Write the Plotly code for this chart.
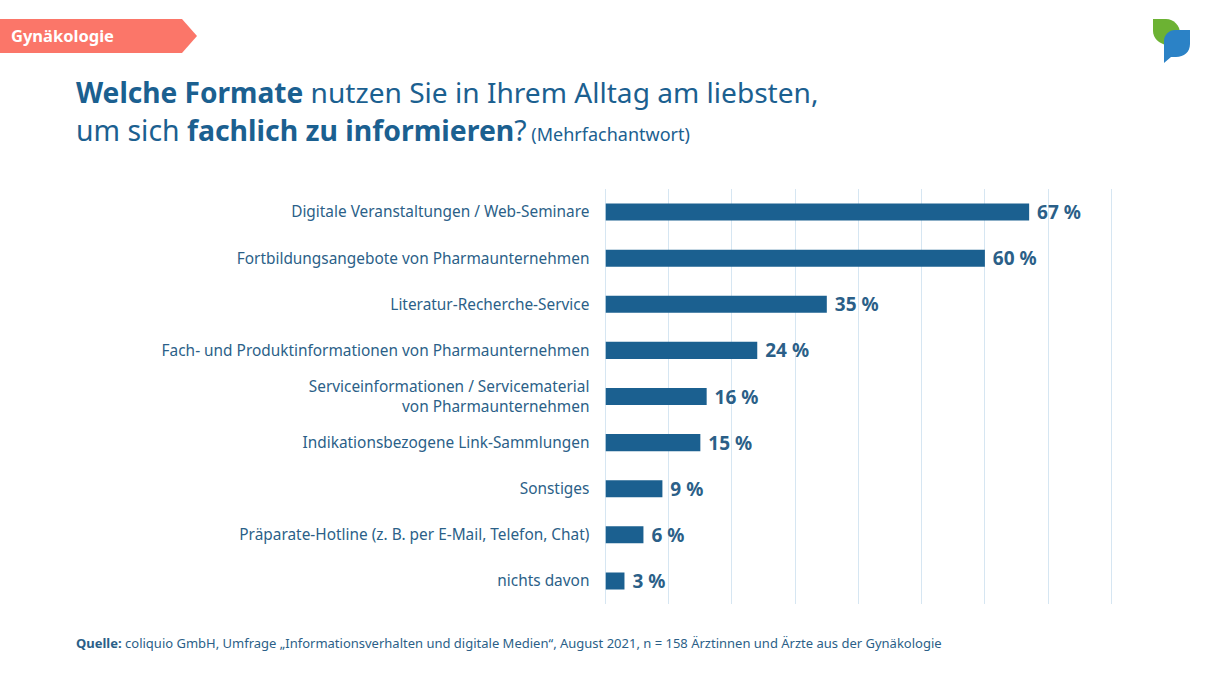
import plotly.graph_objects as go

WIDTH = 1210
HEIGHT = 680
FONT = "Noto Sans"
BLUE = "#1b6090"
TEXT_BLUE = "#2b5f88"
GRID = "#d6e6f2"

categories = [
    "Digitale Veranstaltungen / Web-Seminare",
    "Fortbildungsangebote von Pharmaunternehmen",
    "Literatur-Recherche-Service",
    "Fach- und Produktinformationen von Pharmaunternehmen",
    "Serviceinformationen / Servicematerial<br>von Pharmaunternehmen",
    "Indikationsbezogene Link-Sammlungen",
    "Sonstiges",
    "Präparate-Hotline (z. B. per E-Mail, Telefon, Chat)",
    "nichts davon",
]
values = [67, 60, 35, 24, 16, 15, 9, 6, 3]
x_ticks = [0, 10, 20, 30, 40, 50, 60, 70, 80]


def px(x):
    return x / WIDTH


def py(y):
    return 1 - y / HEIGHT


def pixel_path(points):
    """Baut einen SVG-Pfad aus Pixelkoordinaten (Paper-Referenz)"""
    parts = []
    for cmd, coords in points:
        pairs = [f"{px(x):.5f},{py(y):.5f}" for x, y in coords]
        parts.append(cmd + " ".join(pairs))
    return " ".join(parts) + " Z"


fig = go.Figure()

fig.add_trace(go.Bar(
    x=values,
    y=categories,
    orientation="h",
    marker=dict(color=BLUE, line=dict(width=0)),
    text=[f"\u00a0{v} %" for v in values],
    textposition="outside",
    constraintext="none",
    textfont=dict(family=FONT, size=19, color=TEXT_BLUE, weight="bold"),
    cliponaxis=False,
    hovertemplate="%{y}: %{x} %<extra></extra>",
))

# Banner und Logo
shapes = [
    dict(type="path", xref="paper", yref="paper", fillcolor="#fb7669", line=dict(width=0),
         path=pixel_path([("M", [(0, 19)]), ("L", [(182, 19)]), ("L", [(197, 36)]),
                          ("L", [(182, 53)]), ("L", [(0, 53)])])),
    dict(type="path", xref="paper", yref="paper", fillcolor="#6cb233", line=dict(width=0),
         path=pixel_path([("M", [(1153, 19)]), ("L", [(1166, 19)]),
                          ("C", [(1174, 19), (1180, 26), (1180, 33)]),
                          ("L", [(1167, 45)]),
                          ("C", [(1159, 44), (1153, 38), (1153, 31)])])),
    dict(type="path", xref="paper", yref="paper", fillcolor="#2b82c6", line=dict(width=0),
         path=pixel_path([("M", [(1175, 30)]), ("L", [(1190, 30)]), ("L", [(1190, 44)]),
                          ("C", [(1190, 52), (1184, 57), (1176, 57)]),
                          ("L", [(1171, 57)]), ("L", [(1164, 63)]), ("L", [(1164, 41)]),
                          ("C", [(1164, 35), (1169, 30), (1175, 30)])])),
]

annotations = [
    dict(text="<b>Gynäkologie</b>", x=px(9.5), y=py(35.5), xanchor="left", yanchor="middle",
         font=dict(family=FONT, size=16.5, color="white")),
    dict(text="<b>Welche Formate</b> nutzen Sie in Ihrem Alltag am liebsten,",
         x=px(75), y=py(92), xanchor="left", yanchor="middle",
         font=dict(family=FONT, size=28.1, color=BLUE)),
    dict(text="um sich <b>fachlich zu informieren</b>?<span style='font-size:18px'> (Mehrfachantwort)</span>",
         x=px(75), y=py(130), xanchor="left", yanchor="middle",
         font=dict(family=FONT, size=28.4, color=BLUE)),
    dict(text="<b>Quelle:</b> coliquio GmbH, Umfrage „Informationsverhalten und digitale Medien“, "
              "August 2021, n = 158 Ärztinnen und Ärzte aus der Gynäkologie",
         x=px(75), y=py(643), xanchor="left", yanchor="middle",
         font=dict(family=FONT, size=13, color=TEXT_BLUE)),
]
for a in annotations:
    a.update(xref="paper", yref="paper", showarrow=False, align="left", borderpad=0)

fig.update_layout(
    width=WIDTH,
    height=HEIGHT,
    margin=dict(l=0, r=0, t=0, b=0),
    plot_bgcolor="white",
    paper_bgcolor="white",
    showlegend=False,
    bargap=0.63,
    shapes=shapes,
    annotations=annotations,
    xaxis=dict(
        # Bereich etwas ueber 80 hinaus, sonst faellt die letzte Gitterlinie weg
        domain=[px(605.5), px(1124)],
        range=[0, 82],
        tickvals=x_ticks,
        showticklabels=False,
        showgrid=True,
        gridcolor=GRID,
        gridwidth=1,
        zeroline=True,
        zerolinecolor=GRID,
        zerolinewidth=1,
    ),
    yaxis=dict(
        domain=[py(604), py(189)],
        autorange="reversed",
        showgrid=False,
        zeroline=False,
        ticks="outside",
        ticklen=12,
        tickcolor="rgba(0,0,0,0)",
        tickfont=dict(family=FONT, size=15.4, color=TEXT_BLUE),
    ),
)

fig.write_html("out.html", config=dict(displayModeBar=False),
               post_script="document.body.style.margin='0';")
